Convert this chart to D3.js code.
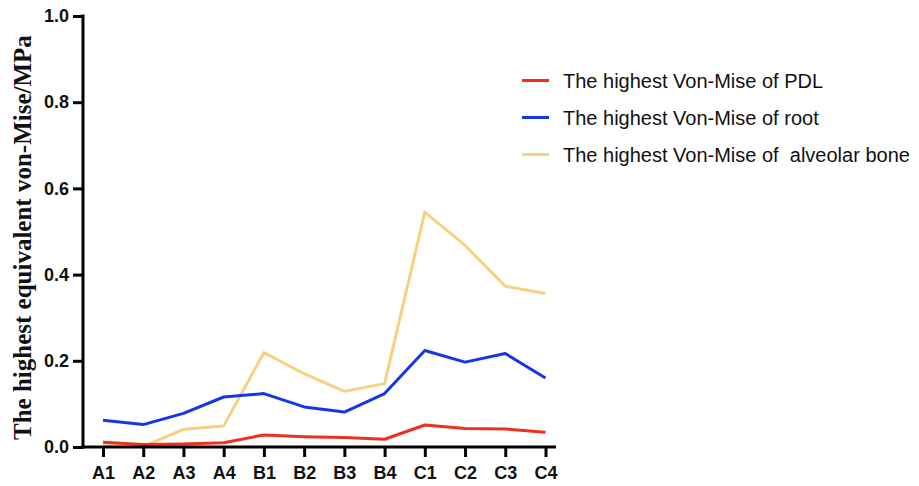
<!DOCTYPE html>
<html>
<head>
<meta charset="utf-8">
<script src="https://cdn.jsdelivr.net/npm/d3@7/dist/d3.min.js"></script>
<style>
  html, body { margin: 0; padding: 0; background: #fff; }
  svg { display: block; }
</style>
</head>
<body>
<svg id="chart" width="919" height="486"></svg>
<script>
// Model groups along the x axis
const categories = ["A1", "A2", "A3", "A4", "B1", "B2", "B3", "B4", "C1", "C2", "C3", "C4"];

// Highest von Mises stress (MPa) per group
const pdlValues      = [0.011, 0.006, 0.007, 0.010, 0.028, 0.024, 0.022, 0.018, 0.051, 0.043, 0.042, 0.034];
const rootValues     = [0.062, 0.052, 0.078, 0.116, 0.124, 0.093, 0.081, 0.124, 0.224, 0.197, 0.217, 0.160];
const alveolarValues = [0.003, 0.001, 0.041, 0.049, 0.219, 0.170, 0.129, 0.147, 0.545, 0.468, 0.373, 0.356];

const seriesNames = [
  "The highest Von-Mise of PDL",
  "The highest Von-Mise of root",
  "The highest Von-Mise of  alveolar bone"
];
const seriesColors = ["#ea3221", "#1636e6", "#f9d07f"];

const yTicks = [0.0, 0.2, 0.4, 0.6, 0.8, 1.0];
const yTitle = "The highest equivalent von-Mise/MPa";

const svg = d3.select("#chart");

const axisX0 = 83, axisX1 = 556;
const plotTop = 16, plotBottom = 447;

const x = d3.scalePoint().domain(categories).range([103, 545.5]);
const y = d3.scaleLinear().domain([0, 1]).range([plotBottom, plotTop]);

// Lines: alveolar bone drawn first, then root, then PDL on top
const series = [
  { values: alveolarValues, color: seriesColors[2] },
  { values: rootValues,     color: seriesColors[1] },
  { values: pdlValues,      color: seriesColors[0] }
];

const line = d3.line()
  .x((d, i) => x(categories[i]))
  .y(d => y(d));

svg.append("g").selectAll("path")
  .data(series)
  .join("path")
  .attr("d", d => line(d.values))
  .attr("fill", "none")
  .attr("stroke", d => d.color)
  .attr("stroke-width", 3)
  .attr("stroke-linejoin", "round");

const tickFont = "'Liberation Sans', Arial, sans-serif";

// Y axis
const yAxis = d3.axisLeft(y)
  .tickValues(yTicks)
  .tickFormat(d3.format(".1f"))
  .tickSize(10)
  .tickSizeOuter(0)
  .tickPadding(4);

const gy = svg.append("g")
  .attr("transform", `translate(${axisX0},0)`)
  .call(yAxis);
gy.select(".domain").attr("stroke", "#000").attr("stroke-width", 3)
  .attr("d", `M0,${plotTop - 1.5}V${plotBottom + 1.5}`);
gy.selectAll(".tick line").attr("stroke", "#000").attr("stroke-width", 3);
gy.selectAll(".tick text")
  .attr("fill", "#111")
  .style("font-family", tickFont)
  .style("font-weight", "bold")
  .style("font-size", "18px");

// X axis
const xAxis = d3.axisBottom(x)
  .tickSize(10)
  .tickSizeOuter(0)
  .tickPadding(9);

const gx = svg.append("g")
  .attr("transform", `translate(0,${plotBottom})`)
  .call(xAxis);
gx.select(".domain").attr("stroke", "#000").attr("stroke-width", 3)
  .attr("d", `M${axisX0 - 1.5},0H${axisX1}`);
gx.selectAll(".tick line").attr("stroke", "#000").attr("stroke-width", 3);
gx.selectAll(".tick text")
  .attr("fill", "#111")
  .style("font-family", tickFont)
  .style("font-weight", "bold")
  .style("font-size", "18px");

// Y axis title, reading bottom to top
svg.append("text")
  .attr("transform", "translate(31,440) rotate(-90)")
  .attr("text-anchor", "start")
  .attr("fill", "#111")
  .style("font-family", "'Liberation Serif', 'Times New Roman', serif")
  .style("font-weight", "bold")
  .style("font-size", "25px")
  .text(yTitle);

// Legend
const legend = svg.append("g").attr("transform", "translate(522,80.5)");
const legendRows = legend.selectAll("g")
  .data(seriesNames)
  .join("g")
  .attr("transform", (d, i) => `translate(0,${i * 37})`);
legendRows.append("line")
  .attr("x1", 0).attr("x2", 27)
  .attr("stroke", (d, i) => seriesColors[i])
  .attr("stroke-width", 3);
legendRows.append("text")
  .attr("x", 41)
  .attr("dy", "0.35em")
  .attr("fill", "#111")
  .style("font-family", tickFont)
  .style("font-size", "20px")
  .style("white-space", "pre")
  .text(d => d);
</script>
</body>
</html>
